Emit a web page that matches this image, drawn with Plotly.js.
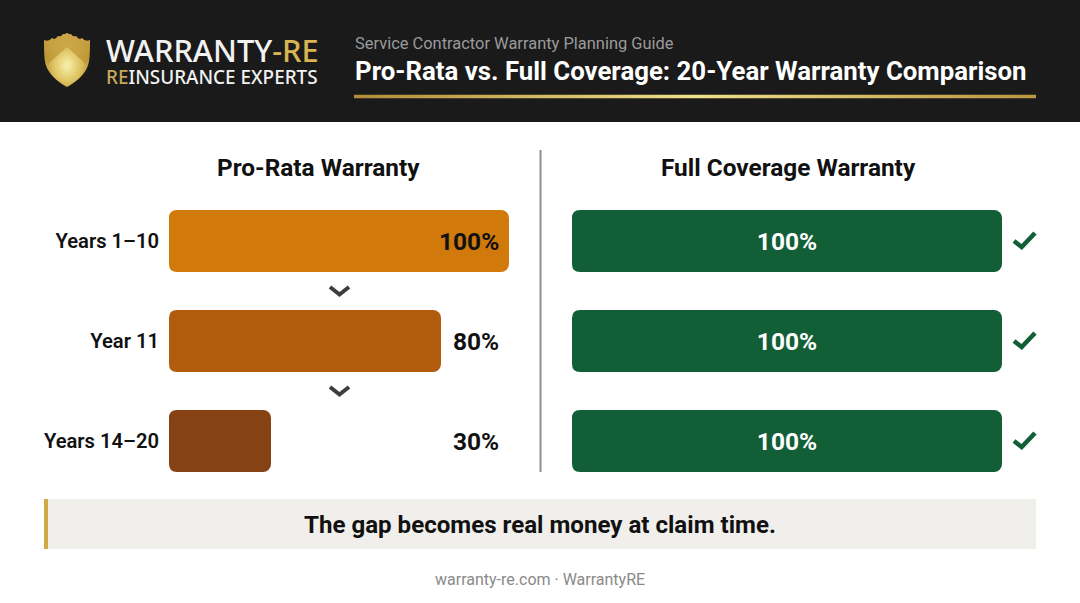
<!DOCTYPE html>
<html>
<head>
<meta charset="utf-8">
<script src="https://cdn.plot.ly/plotly-3.0.1.min.js"></script>
<style>html,body{margin:0;padding:0;background:#fff;overflow:hidden}#c{width:1080px;height:603px}</style>
</head>
<body>
<div id="c"></div>
<script>
const categories = ['Years 1–10', 'Year 11', 'Years 14–20'];
const proRataValues = [100, 80, 30];
const fullCoverageValues = [100, 100, 100];
const proRataColors = ['#d17a0b', '#b05c0c', '#864214'];
const fullColor = '#125f37';

const W = 1080, H = 603;
const px = x => x / W;
const py = y => 1 - y / H;
const F = 'Roboto, sans-serif';

function P(p) { return px(p[0]).toFixed(5) + ',' + py(p[1]).toFixed(5); }
function pathOf(pts) { return 'M' + pts.map(P).join(' L'); }
function rect(x0, y0, x1, y1, color) {
  return {type:'rect', xref:'paper', yref:'paper', x0:px(x0), x1:px(x1), y0:py(y1), y1:py(y0),
          fillcolor:color, line:{width:0}, layer:'below'};
}
function stroke(pts, color, width) {
  return {type:'path', xref:'paper', yref:'paper', path:pathOf(pts), fillcolor:'rgba(0,0,0,0)',
          line:{color:color, width:width}, layer:'above'};
}
// plotly rounds only the tip of a bar: a white notch rounds the corner at its base
function notch(x, y, dy) {
  const r = 8;
  return {type:'path', xref:'paper', yref:'paper', fillcolor:'#ffffff', line:{width:0}, layer:'above',
          path:'M' + P([x-0.5,y]) + ' L' + P([x+r,y]) + ' Q' + P([x,y]) + ' ' + P([x,y+dy*r]) + ' L' + P([x-0.5,y+dy*r]) + ' Z'};
}
function note(text, x, y, size, color, weight, anchor, family) {
  return {text:text, xref:'paper', yref:'paper', x:px(x), y:py(y), xanchor:anchor||'left', yanchor:'middle',
          showarrow:false, borderpad:0, font:{family:family||F, size:size, color:color, weight:weight||400}};
}

const shapes = [
  rect(0, 0, 1080, 122, '#1a1a1a'),
  rect(44, 499, 1036, 549, '#f1efeb'),
  rect(44, 499, 48, 549, '#d0aa45'),
  {type:'line', xref:'paper', yref:'paper', x0:px(540.5), x1:px(540.5), y0:py(472), y1:py(150),
   line:{color:'#8e8e8e', width:2}, layer:'below'}
];
[291, 391].forEach(y => shapes.push(stroke([[330,y-4],[339.5,y+3.5],[349,y-4]], '#3d3d3d', 4)));
[241, 341, 441].forEach(y => shapes.push(stroke([[1014,y],[1021.7,y+6],[1035,y-8]], fullColor, 4.6)));
[169, 572].forEach(x => [241, 341, 441].forEach(y => {
  shapes.push(notch(x, y-31, 1));
  shapes.push(notch(x, y+31, -1));
}));

const shieldSvg = `<svg xmlns="http://www.w3.org/2000/svg" viewBox="0 0 46 54" width="230" height="270">
<defs><radialGradient id="g" cx="0.5" cy="0.6" r="0.58"><stop offset="0" stop-color="#f8f2ac"/><stop offset="0.55" stop-color="#dcbf5c"/><stop offset="1" stop-color="#a67e2a"/></radialGradient>
<linearGradient id="t" x1="0" y1="0" x2="0" y2="1"><stop offset="0" stop-color="#d6b050"/><stop offset="1" stop-color="#b8922f"/></linearGradient></defs>
<path fill="url(#g)" d="M0 7 C4 9 6 7 8 5 C10 7 12 6 14 3 C16 4 18 3 19 1 C21 2 22 0 23 0 C24 0 25 2 27 1 C28 3 30 4 32 3 C34 6 36 7 38 5 C40 7 42 9 46 7 C46 22 46 30 42 37 C38 44 30 50 23 54 C16 50 8 44 4 37 C0 30 0 22 0 7 Z"/>
<path fill="url(#t)" opacity="0.8" d="M23 14 L4 31 C1 24 0 18 0 7 C4 9 6 7 8 5 C10 7 12 6 14 3 C16 4 18 3 19 1 C21 2 22 0 23 0 C24 0 25 2 27 1 C28 3 30 4 32 3 C34 6 36 7 38 5 C40 7 42 9 46 7 C46 18 45 24 42 31 Z"/></svg>`;
const ruleSvg = `<svg xmlns="http://www.w3.org/2000/svg" viewBox="0 0 682 4" width="682" height="4" preserveAspectRatio="none">
<defs><linearGradient id="r"><stop offset="0" stop-color="#b08c36"/><stop offset="0.5" stop-color="#efe08a"/><stop offset="1" stop-color="#b8963f"/></linearGradient></defs>
<rect width="682" height="4" fill="url(#r)"/></svg>`;
const uri = s => 'data:image/svg+xml;charset=utf-8,' + encodeURIComponent(s);

const images = [
  {source:uri(shieldSvg), xref:'paper', yref:'paper', x:px(44), y:py(33), sizex:46/W, sizey:54/H, sizing:'stretch', xanchor:'left', yanchor:'top', layer:'above'},
  {source:uri(ruleSvg), xref:'paper', yref:'paper', x:px(354), y:py(94.5), sizex:682/W, sizey:4/H, sizing:'stretch', xanchor:'left', yanchor:'top', layer:'above'}
];

const logoText = '<span style="font-size:30.8px">WARRANTY</span><span style="font-size:30.8px;color:#d8b552">-RE</span><br>' +
                 '<span style="font-size:18.9px;color:#c8a85a">RE</span><span style="font-size:18.9px">INSURANCE EXPERTS</span>';
const logo = note(logoText, 105, 59.5, 17, '#f2f2f2', 500, 'left', '"Noto Sans", sans-serif');
logo.align = 'left';

const annotations = [
  logo,
  note('Service Contractor Warranty Planning Guide', 354, 43, 16.45, '#9a9a9a', 400),
  note('Pro-Rata vs. Full Coverage: 20-Year Warranty Comparison', 354, 71, 25.8, '#ffffff', 700),
  note('Pro-Rata Warranty', 318, 167.5, 24.4, '#111111', 700, 'center'),
  note('Full Coverage Warranty', 788, 167.5, 24.4, '#111111', 700, 'center'),
  note('The gap becomes real money at claim time.', 540, 525, 24.1, '#111111', 700, 'center'),
  note('warranty-re.com · WarrantyRE', 540, 579, 16, '#8a8a8a', 400, 'center')
];
proRataValues.forEach((v, i) => annotations.push({
  text:v + '%', xref:'x', yref:'y', x:97.3, y:categories[i], xanchor:'right', yanchor:'middle', yshift:-0.5,
  showarrow:false, borderpad:0, font:{family:F, size:24.5, color:'#111111', weight:700}
}));

const traces = [
  {type:'bar', orientation:'h', x:proRataValues, y:categories, xaxis:'x', yaxis:'y', width:0.62,
   marker:{color:proRataColors, cornerradius:8, line:{width:0}}, hoverinfo:'skip'},
  {type:'bar', orientation:'h', x:fullCoverageValues, y:categories, xaxis:'x2', yaxis:'y2', width:0.62,
   text:fullCoverageValues.map(v => v + '%'), textposition:'inside', insidetextanchor:'middle', textangle:0,
   textfont:{family:F, size:24.5, color:'#ffffff', weight:700},
   marker:{color:fullColor, cornerradius:8, line:{width:0}}, hoverinfo:'skip'}
];

const yDomain = [py(491), py(191)];
const layout = {
  width:W, height:H, margin:{l:0, r:0, t:0, b:0}, paper_bgcolor:'#ffffff', plot_bgcolor:'rgba(0,0,0,0)',
  showlegend:false, bargap:0.38, shapes, images, annotations,
  xaxis:{domain:[px(169), px(509)], range:[0,100], visible:false, fixedrange:true},
  xaxis2:{domain:[px(572), px(1002)], range:[0,100], visible:false, fixedrange:true},
  yaxis:{domain:yDomain, type:'category', categoryorder:'array', categoryarray:categories, range:[2.5,-0.5],
         anchor:'x', showgrid:false, zeroline:false, showline:false, ticks:'', ticklabelstandoff:9, fixedrange:true,
         tickfont:{family:F, size:20.2, color:'#111111', weight:600}},
  yaxis2:{domain:yDomain, type:'category', categoryorder:'array', categoryarray:categories, range:[2.5,-0.5],
          anchor:'x2', showgrid:false, zeroline:false, showline:false, ticks:'', showticklabels:false, fixedrange:true}
};
Plotly.newPlot('c', traces, layout, {displayModeBar:false, staticPlot:true});
</script>
</body>
</html>
